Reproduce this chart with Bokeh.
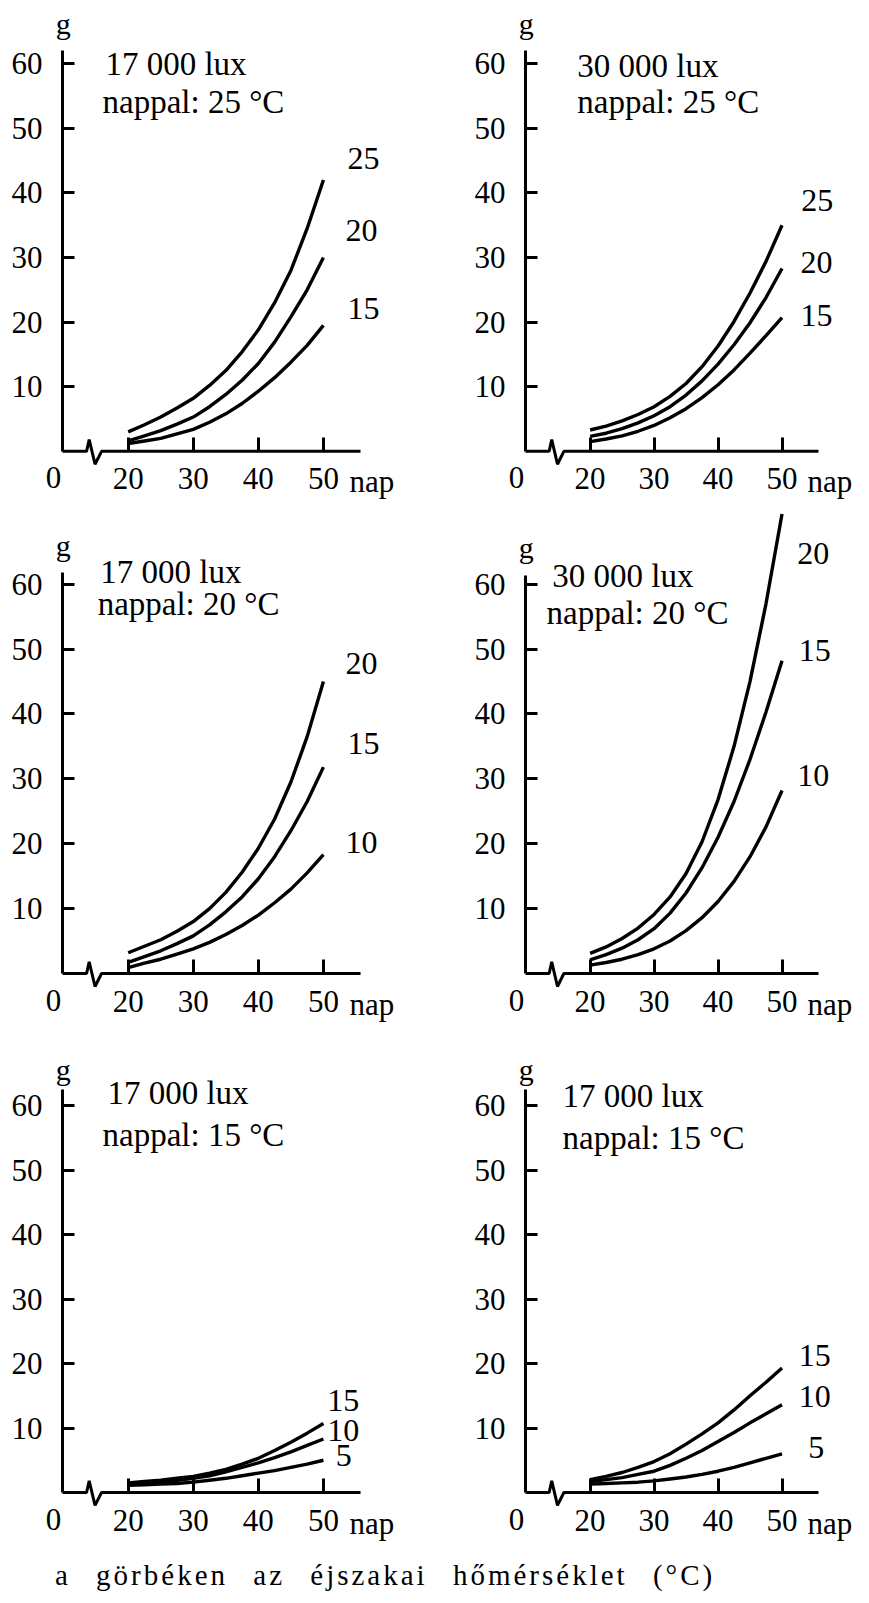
from bokeh.plotting import figure
from bokeh.models import Label, Div, Range1d, FixedTicker
from bokeh.layouts import column, row
from bokeh.embed import file_html
from bokeh.resources import INLINE

# ---------------- data ----------------
days = [20, 22.5, 25, 27.5, 30, 32.5, 35, 37.5, 40, 42.5, 45, 47.5, 50]

# 17 000 lux, nappal 25 °C  (night temperature curves 25, 20, 15)
a_n25 = [3.0, 4.1, 5.3, 6.7, 8.2, 10.2, 12.5, 15.4, 18.8, 23.0, 28.0, 34.5, 42.0]
a_n20 = [1.6, 2.4, 3.2, 4.2, 5.3, 6.9, 8.8, 11.0, 13.6, 16.9, 20.8, 25.0, 30.0]
a_n15 = [1.2, 1.6, 2.0, 2.7, 3.4, 4.5, 5.8, 7.4, 9.3, 11.4, 13.8, 16.4, 19.5]

# 30 000 lux, nappal 25 °C
b_n25 = [3.3, 3.9, 4.7, 5.7, 6.9, 8.5, 10.5, 13.1, 16.3, 20.1, 24.5, 29.4, 35.0]
b_n20 = [2.3, 2.8, 3.5, 4.4, 5.5, 6.9, 8.7, 10.9, 13.5, 16.5, 19.9, 23.8, 28.3]
b_n15 = [1.5, 1.9, 2.4, 3.1, 4.0, 5.2, 6.6, 8.3, 10.3, 12.6, 15.2, 17.9, 20.7]

# 17 000 lux, nappal 20 °C
c_n20 = [3.2, 4.2, 5.2, 6.5, 8.0, 10.0, 12.5, 15.6, 19.3, 23.8, 29.5, 36.5, 45.0]
c_n15 = [1.7, 2.6, 3.5, 4.6, 5.8, 7.5, 9.5, 11.8, 14.6, 18.0, 22.0, 26.5, 31.8]
c_n10 = [0.9, 1.6, 2.2, 3.0, 3.8, 4.8, 6.0, 7.4, 9.0, 10.9, 13.0, 15.5, 18.3]

# 30 000 lux, nappal 20 °C
d_n20 = [3.1, 4.1, 5.4, 7.0, 9.1, 11.8, 15.4, 20.3, 26.8, 35.0, 45.0, 57.0, 70.8]
d_n15 = [2.1, 2.9, 3.9, 5.2, 6.9, 9.3, 12.4, 16.3, 21.0, 26.5, 33.0, 40.3, 48.2]
d_n10 = [1.3, 1.7, 2.2, 2.9, 3.8, 5.0, 6.6, 8.6, 11.1, 14.2, 18.0, 22.6, 28.2]

# 17 000 lux, nappal 15 °C (left)
e_n15 = [1.5, 1.7, 1.9, 2.2, 2.5, 3.0, 3.6, 4.4, 5.3, 6.5, 7.8, 9.2, 10.7]
e_n10 = [1.3, 1.5, 1.7, 1.9, 2.2, 2.6, 3.2, 3.9, 4.6, 5.4, 6.3, 7.3, 8.3]
e_n5 = [1.1, 1.2, 1.3, 1.4, 1.6, 1.9, 2.2, 2.6, 3.0, 3.4, 3.9, 4.4, 5.0]

# 17 000 lux, nappal 15 °C (right)
f_n15 = [2.0, 2.5, 3.1, 3.9, 4.8, 6.0, 7.5, 9.1, 10.8, 12.8, 15.0, 17.1, 19.3]
f_n10 = [1.7, 2.0, 2.3, 2.8, 3.3, 4.2, 5.3, 6.5, 7.9, 9.3, 10.8, 12.2, 13.6]
f_n5 = [1.3, 1.4, 1.5, 1.6, 1.8, 2.1, 2.4, 2.8, 3.3, 3.9, 4.6, 5.3, 6.0]

x_ticks = [20, 30, 40, 50]
y_ticks = [10, 20, 30, 40, 50, 60]
x_origin_label = "0"
x_unit = "nap"
y_unit = "g"
caption = "a görbéken az éjszakai hőmérséklet (°C)"

# axis break symbol on the day axis (zigzag)
break_x = [13.6, 14.0, 14.9, 15.9]
break_y = [0, 1.8, -2.0, 0]

# ---------------- styling / layout ----------------
FONT = "Liberation Serif"
AXIS_FONT = '"Liberation Serif", serif'
TICK_SIZE = "31px"
TITLE_SIZE = "33px"
TEXT_SIZE = "32px"
INK = "black"
LW = 3.4
X_AXIS_AT, X_END = 9.9, 55.7

panels = [
    dict(lux="17 000 lux", day="nappal: 25 °C",
         series=[("25", a_n25), ("20", a_n20), ("15", a_n15)],
         lab_pos=[(53.7, 45.3), (53.4, 34.2), (53.7, 22.1)],
         t1=(16.5, 60.0), t2=(16.05, 54.0), g_y=66.2, right=False,
         height=500, zero=450.8, k=6.46, axis_top=62.0),
    dict(lux="30 000 lux", day="nappal: 25 °C",
         series=[("25", b_n25), ("20", b_n20), ("15", b_n15)],
         lab_pos=[(53.0, 38.8), (52.9, 29.2), (52.9, 21.0)],
         t1=(18.0, 59.7), t2=(18.0, 54.0), g_y=66.2, right=True,
         height=500, zero=450.8, k=6.46, axis_top=62.0),
    dict(lux="17 000 lux", day="nappal: 20 °C",
         series=[("20", c_n20), ("15", c_n15), ("10", c_n10)],
         lab_pos=[(53.4, 47.8), (53.7, 35.4), (53.4, 20.2)],
         t1=(15.7, 61.9), t2=(15.3, 56.9), g_y=66.0, right=False,
         height=530, zero=473.0, k=6.49, axis_top=61.8),
    dict(lux="30 000 lux", day="nappal: 20 °C",
         series=[("20", d_n20), ("15", d_n15), ("10", d_n10)],
         lab_pos=[(52.4, 64.7), (52.6, 49.8), (52.4, 30.5)],
         t1=(14.1, 61.3), t2=(13.2, 55.5), g_y=65.6, right=True,
         height=530, zero=473.0, k=6.49, axis_top=61.3),
    dict(lux="17 000 lux", day="nappal: 15 °C",
         series=[("15", e_n15), ("10", e_n10), ("5", e_n5)],
         lab_pos=[(50.6, 14.3), (50.6, 9.6), (51.9, 5.7)],
         t1=(16.8, 62.0), t2=(16.05, 55.5), g_y=65.6, right=False,
         height=515, zero=462.0, k=6.45, axis_top=62.5),
    dict(lux="17 000 lux", day="nappal: 15 °C",
         series=[("15", f_n15), ("10", f_n10), ("5", f_n5)],
         lab_pos=[(52.6, 21.2), (52.6, 14.9), (54.1, 7.0)],
         t1=(15.7, 61.4), t2=(15.7, 55.0), g_y=65.6, right=True,
         height=515, zero=462.0, k=6.45, axis_top=62.5),
]


def add_text(p, x, y, text, size, align="left", baseline="middle"):
    p.add_layout(Label(x=x, y=y, text=text, text_font=FONT,
                       text_font_size=size, text_align=align,
                       text_baseline=baseline, text_color=INK))


def make_panel(cfg):
    if cfg["right"]:
        width, axis_px, kx = 435, 91, 6.397
    else:
        width, axis_px, kx = 434, 62, 6.507
    k, zero, h = cfg["k"], cfg["zero"], cfg["height"]
    x_lo = X_AXIS_AT - axis_px / kx
    x_hi = X_AXIS_AT + (width - axis_px) / kx
    y_lo = -(h - zero) / k
    y_hi = zero / k
    p = figure(width=width, height=h, x_range=Range1d(x_lo, x_hi),
               y_range=Range1d(y_lo, y_hi),
               output_backend="svg", toolbar_location=None,
               min_border=0, min_border_left=0, min_border_right=0,
               min_border_top=0, min_border_bottom=0)
    p.grid.visible = False
    p.outline_line_color = None
    p.background_fill_color = "white"
    p.border_fill_color = "white"

    xa = p.xaxis[0]
    xa.ticker = FixedTicker(ticks=x_ticks)
    xa.fixed_location = 0
    xa.axis_line_color = None
    xa.major_tick_in = 14
    xa.major_tick_out = 0
    xa.minor_tick_in = 0
    xa.minor_tick_out = 0
    xa.major_tick_line_width = 3
    xa.major_tick_line_color = INK
    xa.major_label_standoff = 17
    xa.major_label_text_font = AXIS_FONT
    xa.major_label_text_font_size = TICK_SIZE
    xa.major_label_text_color = INK

    ya = p.yaxis[0]
    ya.ticker = FixedTicker(ticks=y_ticks)
    ya.fixed_location = X_AXIS_AT
    ya.bounds = (0, cfg["axis_top"])
    ya.axis_line_width = 3
    ya.axis_line_color = INK
    ya.major_tick_in = 12
    ya.major_tick_out = 0
    ya.minor_tick_in = 0
    ya.minor_tick_out = 0
    ya.major_tick_line_width = 3
    ya.major_tick_line_color = INK
    ya.major_label_standoff = 20
    ya.major_label_text_font = AXIS_FONT
    ya.major_label_text_font_size = TICK_SIZE
    ya.major_label_text_color = INK

    # day axis with break
    p.line([X_AXIS_AT] + break_x + [X_END], [0] + break_y + [0],
           line_color=INK, line_width=3)

    for (name, vals), (lx, ly) in zip(cfg["series"], cfg["lab_pos"]):
        p.line(days, vals, line_color=INK, line_width=LW)
        add_text(p, lx, ly, name, TEXT_SIZE)

    add_text(p, cfg["t1"][0], cfg["t1"][1], cfg["lux"], TITLE_SIZE)
    add_text(p, cfg["t2"][0], cfg["t2"][1], cfg["day"], TITLE_SIZE)
    add_text(p, 10.0, cfg["g_y"], y_unit, "30px", align="center")
    add_text(p, 8.5, -16.0 / k, x_origin_label, TICK_SIZE, align="center", baseline="top")
    add_text(p, 54.0, -13.0 / k, x_unit, TICK_SIZE, align="left", baseline="top")
    return p


figs = [make_panel(c) for c in panels]

cap = Div(text=caption, width=869, height=58, margin=(0, 0, 0, 0),
          styles={"font-family": FONT, "font-size": "29px",
                  "letter-spacing": "3px", "word-spacing": "15px",
                  "padding-left": "55px", "padding-top": "10px",
                  "color": "black", "white-space": "nowrap"})

layout = column(row(figs[0], figs[1], spacing=0),
                row(figs[2], figs[3], spacing=0),
                row(figs[4], figs[5], spacing=0),
                cap, spacing=0)

html = file_html(layout, INLINE, title="growth")
html = html.replace("<head>", "<head><style>body{margin:0;padding:0;background:white;}</style>", 1)
open("out.html", "w").write(html)
